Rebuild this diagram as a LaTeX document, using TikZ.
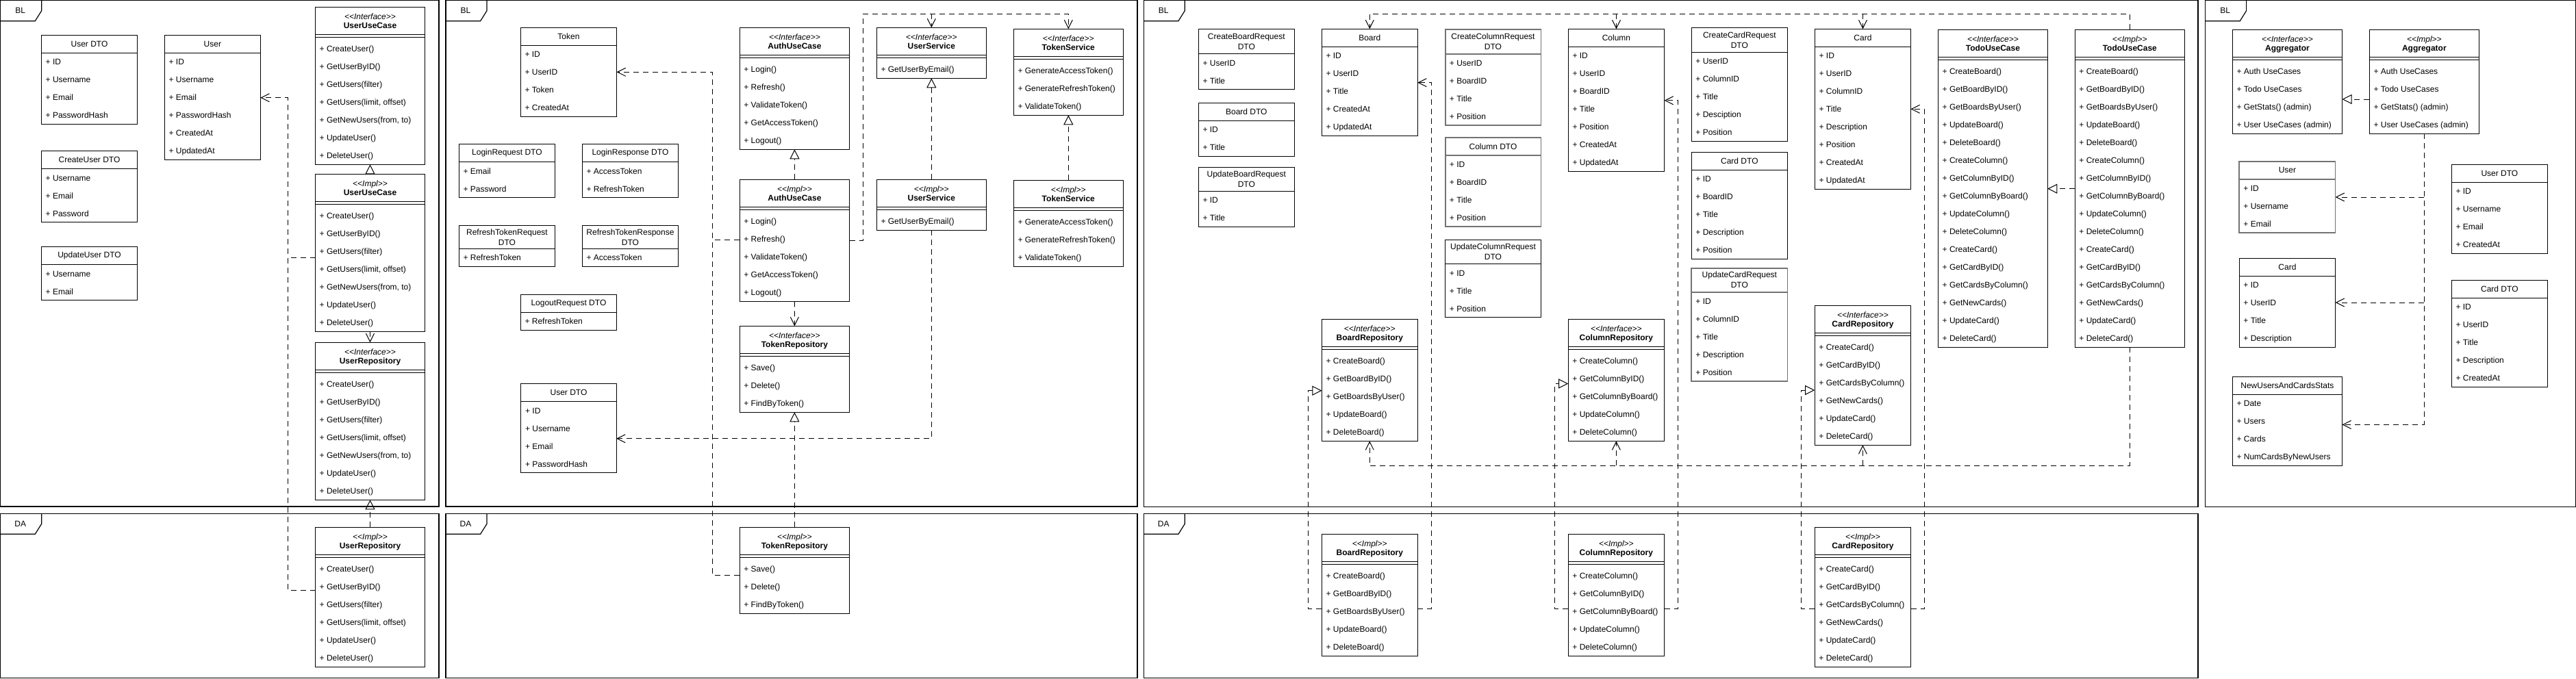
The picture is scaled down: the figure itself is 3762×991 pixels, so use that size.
\documentclass[tikz,border=0pt]{standalone}
\usepackage{fontspec}
\setmainfont{Liberation Sans}
\usetikzlibrary{arrows.meta}
\newcount\rowcnt
\tikzset{
  box/.style={draw,line width=1pt,inner sep=0pt,outer sep=0pt,fill=white},
  cline/.style={line width=1pt},
  nb/.style={},
  gb/.style={draw=black!55,line width=1.6pt},
  txt/.style={inner sep=0pt,font=\fontsize{12}{15}\selectfont},
  frame/.style={line width=1.2pt},
  dl/.style={line width=1pt,dash pattern=on 8pt off 6pt},
  dep/.style={dl,-{Straight Barb[length=12pt,width=12pt]}},
  real/.style={dl,-{Triangle[open,length=14pt,width=14pt]}},
}
\newcommand\st[1]{\textit{{<}{<}#1{>}{>}}}
% simple class: name x y w headh style title rows
\newcommand\clsS[8]{%
  \global\rowcnt=0
  \foreach \r in {#8}{\global\advance\rowcnt by 1}
  \node[box,#6,minimum width=#4pt,minimum height={(#5+26*\the\rowcnt)*1pt},anchor=north west] (#1) at (#2,#3) {};
  \draw[cline,#6] (#2,{#3+#5}) -- ++(#4,0);
  \node[txt,align=center] at ({#2+#4/2},{#3+#5/2}) {#7};
  \foreach[count=\i] \r in {#8}{\node[txt,anchor=base west] at ({#2+6},{#3+#5+17.3+26*(\i-1)}) {+ \r};}
}
% interface/impl class: name x y w stereo title rows
\newcommand\clsI[7]{%
  \global\rowcnt=0
  \foreach \r in {#7}{\global\advance\rowcnt by 1}
  \node[box,minimum width=#4pt,minimum height={(48+26*\the\rowcnt)*1pt},anchor=north west] (#1) at (#2,#3) {};
  \draw[cline] (#2,{#3+40}) -- ++(#4,0);
  \draw[cline] (#2,{#3+44}) -- ++(#4,0);
  \node[txt,anchor=base] at ({#2+#4/2},{#3+17.8}) {\st{#5}};
  \node[txt,anchor=base] at ({#2+#4/2},{#3+31.3}) {\bfseries #6};
  \foreach[count=\i] \r in {#7}{\node[txt,anchor=base west] at ({#2+6},{#3+65.3+26*(\i-1)}) {+ \r};}
}
\newcommand\frm[5]{%
  \draw[frame] (#1,#2) rectangle (#3,#4);
  \draw[frame] ({#1+60},#2) -- ({#1+60},{#2+15}) -- ({#1+50.6},{#2+30}) -- (#1,{#2+30});
  \node[txt] at ({#1+29},{#2+15}) {#5};
}
\begin{document}
\begin{tikzpicture}[x=1pt,y=-1pt]
\useasboundingbox[fill=white] (0,0) rectangle (3762,991);
% frames
\frm{0.7}{0.7}{641}{740}{BL}
\frm{0.7}{750.3}{641}{990.3}{DA}
\frm{651}{0.7}{1661}{740}{BL}
\frm{651}{750.3}{1661}{990.3}{DA}
\frm{1670.3}{0.7}{3210}{740.4}{BL}
\frm{1670.3}{750.3}{3210}{990.3}{DA}
\frm{3220.6}{0.7}{3761.3}{740.5}{BL}

% ---------- panel 1
\clsS{udto1}{60.5}{51.7}{140}{25.6}{nb}{User DTO}{ID,Username,Email,PasswordHash}
\clsS{cudto}{60.5}{220.3}{140}{26.4}{nb}{CreateUser DTO}{Username,Email,Password}
\clsS{uudto}{60.5}{360.3}{140}{26.4}{nb}{UpdateUser DTO}{Username,Email}
\clsS{user1}{240.4}{51.7}{140}{25.6}{nb}{User}{ID,Username,Email,PasswordHash,CreatedAt,UpdatedAt}
\clsI{uucI}{460.5}{10.3}{160}{Interface}{UserUseCase}{CreateUser(),GetUserByID(),GetUsers(filter),{GetUsers(limit, offset)},{GetNewUsers(from, to)},UpdateUser(),DeleteUser()}
\clsI{uucM}{460.5}{254.3}{160}{Impl}{UserUseCase}{CreateUser(),GetUserByID(),GetUsers(filter),{GetUsers(limit, offset)},{GetNewUsers(from, to)},UpdateUser(),DeleteUser()}
\clsI{urI}{460.5}{500.3}{160}{Interface}{UserRepository}{CreateUser(),GetUserByID(),GetUsers(filter),{GetUsers(limit, offset)},{GetNewUsers(from, to)},UpdateUser(),DeleteUser()}
\clsI{urM}{460.5}{770.3}{160}{Impl}{UserRepository}{CreateUser(),GetUserByID(),GetUsers(filter),{GetUsers(limit, offset)},UpdateUser(),DeleteUser()}

% ---------- panel 2
\clsS{token}{760.3}{40.3}{140.3}{26}{nb}{Token}{ID,UserID,Token,CreatedAt}
\clsS{lreq}{670.3}{210.3}{140.3}{26.4}{nb}{LoginRequest DTO}{Email,Password}
\clsS{lresp}{850.3}{210.3}{140.3}{26.4}{nb}{LoginResponse DTO}{AccessToken,RefreshToken}
\clsS{rreq}{670.3}{329.3}{140.3}{34}{nb}{RefreshTokenRequest\\DTO}{RefreshToken}
\clsS{rresp}{850.3}{329.3}{140.3}{34}{nb}{RefreshTokenResponse\\DTO}{AccessToken}
\clsS{lout}{760.3}{430.3}{140.3}{26}{nb}{LogoutRequest DTO}{RefreshToken}
\clsS{udto2}{760.9}{560.3}{139.2}{26.4}{nb}{User DTO}{ID,Username,Email,PasswordHash}
\clsI{aucI}{1080.2}{40.3}{160.5}{Interface}{AuthUseCase}{Login(),Refresh(),ValidateToken(),GetAccessToken(),Logout()}
\clsI{aucM}{1080.2}{262.3}{160.5}{Impl}{AuthUseCase}{Login(),Refresh(),ValidateToken(),GetAccessToken(),Logout()}
\clsI{trI}{1080.2}{476.3}{160.3}{Interface}{TokenRepository}{Save(),Delete(),FindByToken()}
\clsI{trM}{1080.2}{770.3}{160.3}{Impl}{TokenRepository}{Save(),Delete(),FindByToken()}
\clsI{usI}{1280.3}{40.3}{160}{Interface}{UserService}{GetUserByEmail()}
\clsI{usM}{1280.3}{262.3}{160}{Impl}{UserService}{GetUserByEmail()}
\clsI{tsI}{1480.3}{42.3}{160}{Interface}{TokenService}{GenerateAccessToken(),GenerateRefreshToken(),ValidateToken()}
\clsI{tsM}{1480.3}{263.3}{160}{Impl}{TokenService}{GenerateAccessToken(),GenerateRefreshToken(),ValidateToken()}

% ---------- panel 3
\clsS{cbr}{1750.3}{42.3}{140}{36.4}{nb}{CreateBoardRequest\\DTO}{UserID,Title}
\clsS{bdto}{1750.3}{150.3}{140}{26}{nb}{Board DTO}{ID,Title}
\clsS{ubr}{1750.3}{244.3}{140}{35}{nb}{UpdateBoardRequest\\DTO}{ID,Title}
\clsS{board}{1930.3}{42.3}{140}{26}{nb}{Board}{ID,UserID,Title,CreatedAt,UpdatedAt}
\clsS{ccr}{2110.7}{42.7}{139.6}{36.3}{gb}{CreateColumnRequest\\DTO}{UserID,BoardID,Title,Position}
\clsS{cdto}{2110.7}{201}{139.6}{26}{gb}{Column DTO}{ID,BoardID,Title,Position}
\clsS{ucr}{2110.7}{350.3}{139.6}{35.4}{nb}{UpdateColumnRequest\\DTO}{ID,Title,Position}
\clsS{column}{2290.3}{42.3}{140.3}{26}{nb}{Column}{ID,UserID,BoardID,Title,Position,CreatedAt,UpdatedAt}
\clsS{ccar}{2470.2}{40.3}{140.3}{36}{nb}{CreateCardRequest\\DTO}{UserID,ColumnID,Title,Desciption,Position}
\clsS{carddto}{2470.2}{222.3}{140.3}{26}{nb}{Card DTO}{ID,BoardID,Title,Description,Position}
\clsS{ucar}{2470.2}{391.7}{140.3}{35}{gb}{UpdateCardRequest\\DTO}{ID,ColumnID,Title,Description,Position}
\clsS{card}{2650.4}{42.3}{140.1}{26}{nb}{Card}{ID,UserID,ColumnID,Title,Description,Position,CreatedAt,UpdatedAt}
\clsI{tdI}{2830.5}{43.3}{159.8}{Interface}{TodoUseCase}{CreateBoard(),GetBoardByID(),GetBoardsByUser(),UpdateBoard(),DeleteBoard(),CreateColumn(),GetColumnByID(),GetColumnByBoard(),UpdateColumn(),DeleteColumn(),CreateCard(),GetCardByID(),GetCardsByColumn(),GetNewCards(),UpdateCard(),DeleteCard()}
\clsI{tdM}{3030.2}{43.3}{160.2}{Impl}{TodoUseCase}{CreateBoard(),GetBoardByID(),GetBoardsByUser(),UpdateBoard(),DeleteBoard(),CreateColumn(),GetColumnByID(),GetColumnByBoard(),UpdateColumn(),DeleteColumn(),CreateCard(),GetCardByID(),GetCardsByColumn(),GetNewCards(),UpdateCard(),DeleteCard()}
\clsI{brI}{1930.4}{466.3}{139.7}{Interface}{BoardRepository}{CreateBoard(),GetBoardByID(),GetBoardsByUser(),UpdateBoard(),DeleteBoard()}
\clsI{brM}{1930.4}{780.2}{139.7}{Impl}{BoardRepository}{CreateBoard(),GetBoardByID(),GetBoardsByUser(),UpdateBoard(),DeleteBoard()}
\clsI{crI}{2290.2}{466.3}{140.3}{Interface}{ColumnRepository}{CreateColumn(),GetColumnByID(),GetColumnByBoard(),UpdateColumn(),DeleteColumn()}
\clsI{crM}{2290.2}{780.2}{140.3}{Impl}{ColumnRepository}{CreateColumn(),GetColumnByID(),GetColumnByBoard(),UpdateColumn(),DeleteColumn()}
\clsI{karI}{2650.2}{446.2}{140.4}{Interface}{CardRepository}{CreateCard(),GetCardByID(),GetCardsByColumn(),GetNewCards(),UpdateCard(),DeleteCard()}
\clsI{karM}{2650.2}{770.4}{140.4}{Impl}{CardRepository}{CreateCard(),GetCardByID(),GetCardsByColumn(),GetNewCards(),UpdateCard(),DeleteCard()}

% ---------- panel 4
\clsI{agI}{3260.3}{43.3}{160.2}{Interface}{Aggregator}{Auth UseCases,Todo UseCases,GetStats() (admin),User UseCases (admin)}
\clsI{agM}{3460.3}{43.3}{160.1}{Impl}{Aggregator}{Auth UseCases,Todo UseCases,GetStats() (admin),User UseCases (admin)}
\clsS{user4}{3270.2}{235.7}{140.4}{26.3}{gb}{User}{ID,Username,Email}
\clsS{udto4}{3580.3}{240.3}{140.1}{26}{nb}{User DTO}{ID,Username,Email,CreatedAt}
\clsS{card4}{3270.2}{377.7}{140.4}{25.7}{nb}{Card}{ID,UserID,Title,Description}
\clsS{cdto4}{3580.3}{409.2}{140.1}{26.1}{nb}{Card DTO}{ID,UserID,Title,Description,CreatedAt}
\clsS{stats}{3260.3}{550.3}{160.2}{26.1}{nb}{NewUsersAndCardsStats}{Date,Users,Cards,NumCardsByNewUsers}

% ---------- connectors panel 1
\draw[real] (uucM.north) -- (uucI.south);
\draw[dep] (uucM.south) -- (urI.north);
\draw[real] (urM.north) -- (urI.south);
\draw[dep] (urM.west |- 0,862.3) -- (420.3,862.3) -- (420.3,142.7) -- (user1.east |- 0,142.7);
\coordinate (j1) at (420.3,376.3);
\draw[dl] (uucM.west |- j1) -- (j1);

% ---------- connectors panel 2
\draw[real] (aucM.north) -- (aucI.south);
\draw[dep] (aucM.south) -- (trI.north);
\draw[real] (trM.north) -- (trI.south);
\draw[dep] (trM.west |- 0,840) -- (1040.2,840) -- (1040.2,105.3) -- (token.east |- 0,105.3);
\coordinate (j2) at (1040.2,350.7);
\draw[dl] (aucM.west |- j2) -- (j2);
\draw[dep] (aucM.east |- 0,351) -- (1260.3,351) -- (1260.3,20.3) -| (tsI.north);
\coordinate (j3) at (usI.north |- 0,20.3);
\draw[dep] (j3) -- (usI.north);
\draw[real] (usM.north) -- (usI.south);
\draw[real] (tsM.north) -- (tsI.south);
\draw[dep] (usM.south) |- (udto2.east |- 0,640.7);

% ---------- connectors panel 3
\draw[real] (tdM.west |- 0,275.7) -- (tdI.east |- 0,275.7);
\draw[dep] (tdM.north) -- (tdM.north |- 0,20.3) -| (board.north);
\coordinate (j4) at (column.north |- 0,20.3);
\coordinate (j5) at (card.north |- 0,20.3);
\draw[dep] (j4) -- (column.north);
\draw[dep] (j5) -- (card.north);
\draw[dep] (tdM.south) -- (tdM.south |- 0,680.4) -| (brI.south);
\coordinate (j6) at (crI.south |- 0,680.4);
\coordinate (j7) at (karI.south |- 0,680.4);
\draw[dep] (j6) -- (crI.south);
\draw[dep] (j7) -- (karI.south);
\draw[real] (brM.west |- 0,889.1) -- (1910.7,889.1) -- (1910.7,570.7) -- (brI.west |- 0,570.7);
\draw[dep] (brM.east |- 0,889.1) -- (2090.3,889.1) -- (2090.3,120.7) -- (board.east |- 0,120.7);
\draw[real] (crM.west |- 0,889.1) -- (2270.4,889.1) -- (2270.4,560.5) -- (crI.west |- 0,560.5);
\draw[dep] (crM.east |- 0,889.1) -- (2450.6,889.1) -- (2450.6,146.7) -- (column.east |- 0,146.7);
\draw[real] (karM.west |- 0,889.1) -- (2630.4,889.1) -- (2630.4,570) -- (karI.west |- 0,570);
\draw[dep] (karM.east |- 0,889.1) -- (2810.4,889.1) -- (2810.4,159.3) -- (card.east |- 0,159.3);

% ---------- connectors panel 4
\draw[real] (agM.west |- 0,145) -- (agI.east |- 0,145);
\draw[dep] (agM.south) |- (stats.east |- 0,620.4);
\coordinate (j8) at (agM.south |- 0,288);
\coordinate (j9) at (agM.south |- 0,442);
\draw[dep] (j8) -- (user4.east |- j8);
\draw[dep] (j9) -- (card4.east |- j9);
\end{tikzpicture}
\end{document}
